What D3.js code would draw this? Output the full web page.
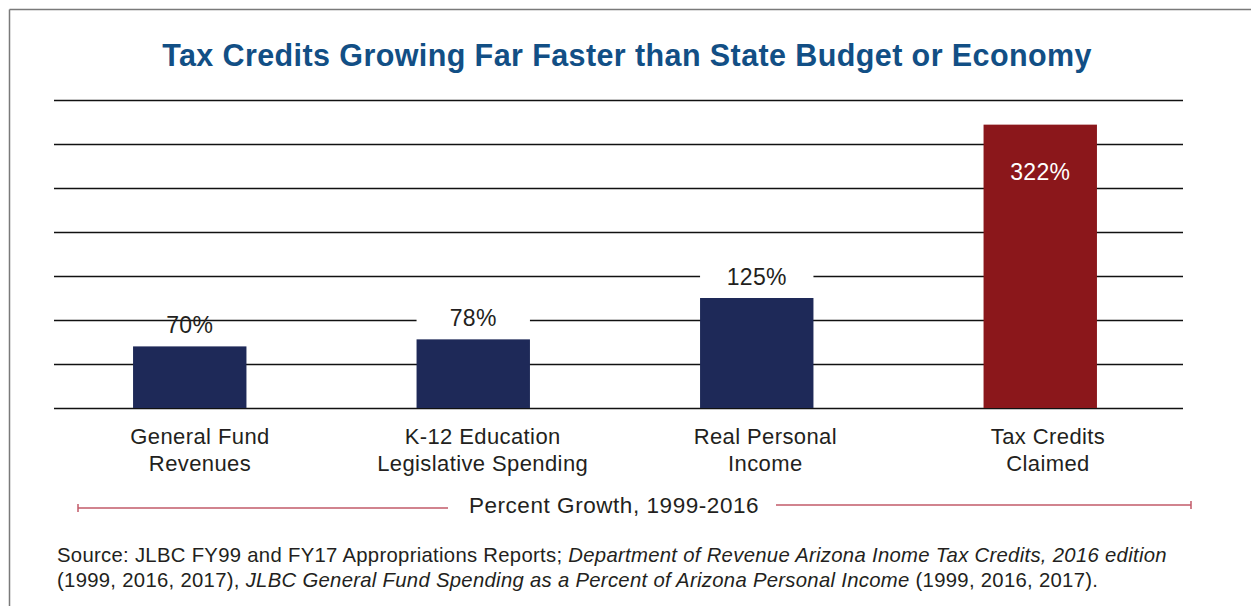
<!DOCTYPE html>
<html><head><meta charset="utf-8">
<script src="https://cdn.jsdelivr.net/npm/d3@7"></script>
<style>
html,body{margin:0;padding:0;background:#fff;}
svg{display:block;font-family:"Liberation Sans",Arial,Helvetica,sans-serif;}
</style></head>
<body>
<svg id="chart" width="1251" height="606"></svg>
<script>
const title = "Tax Credits Growing Far Faster than State Budget or Economy";
const categories = ["General Fund|Revenues", "K-12 Education|Legislative Spending", "Real Personal|Income", "Tax Credits|Claimed"];
const values = [70, 78, 125, 322];
const valueLabels = ["70%", "78%", "125%", "322%"];
const yTicks = [0, 50, 100, 150, 200, 250, 300, 350];
const axisTitle = "Percent Growth, 1999-2016";
const sourceLine1 = [["Source: JLBC FY99 and FY17 Appropriations Reports; ", false], ["Department of Revenue Arizona Inome Tax Credits, 2016 edition", true]];
const sourceLine2 = [["(1999, 2016, 2017), ", false], ["JLBC General Fund Spending as a Percent of Arizona Personal Income", true], [" (1999, 2016, 2017).", false]];

const navy = "#1e2958", red = "#8b171b", textCol = "#231f20";
const svg = d3.select("#chart");

// frame
svg.append("line").attr("x1", 9.5).attr("y1", 9.5).attr("x2", 1251).attr("y2", 9.5).attr("stroke", "#7a7a7a").attr("stroke-width", 1.5);
svg.append("line").attr("x1", 9.5).attr("y1", 9.5).attr("x2", 9.5).attr("y2", 606).attr("stroke", "#7a7a7a").attr("stroke-width", 1.5);

// title
svg.append("text").attr("x", 627).attr("y", 66).attr("text-anchor", "middle")
  .attr("font-size", 30.5).attr("letter-spacing", 0.4).attr("font-weight", "bold").attr("fill", "#124f85").text(title);

const y = d3.scaleLinear().domain([0, 350]).range([408, 100]);
const x = d3.scaleBand().domain(categories).range([48, 1182]).paddingInner(0.6).paddingOuter(0.3);
const xl = d3.scalePoint().domain(categories).range([200, 1048]);

// gridlines
const grid = svg.append("g").attr("transform", "translate(54,0)")
  .call(d3.axisLeft(y).tickValues(yTicks).tickSize(-1129).tickFormat(""));
grid.select(".domain").remove();
grid.selectAll(".tick line").attr("stroke", "#111").attr("stroke-width", 1.3);

// bars
svg.selectAll("rect.bar").data(values).join("rect").attr("class", "bar")
  .attr("x", (d, i) => x(categories[i])).attr("width", x.bandwidth())
  .attr("y", d => y(d)).attr("height", d => y(0) - y(d))
  .attr("fill", (d, i) => i === values.length - 1 ? red : navy);

// label boxes (white background hiding gridlines)
values.forEach((d, i) => {
  if (i === 1 || i === 2) {
    svg.append("rect").attr("x", x(categories[i])).attr("width", x.bandwidth())
      .attr("y", y(d) - 34).attr("height", 24).attr("fill", "#fff");
  }
});

// value labels
svg.selectAll("text.val").data(values).join("text").attr("class", "val")
  .attr("x", (d, i) => x(categories[i]) + x.bandwidth() / 2)
  .attr("y", (d, i) => i === values.length - 1 ? y(d) + 55 : y(d) - 13)
  .attr("text-anchor", "middle").attr("font-size", 23).attr("letter-spacing", 0.3)
  .attr("fill", (d, i) => i === values.length - 1 ? "#fff" : textCol)
  .text((d, i) => valueLabels[i]);

// category labels
const cl = svg.selectAll("text.cat").data(categories).join("text").attr("class", "cat")
  .attr("x", d => xl(d)).attr("y", 444).attr("text-anchor", "middle")
  .attr("font-size", 22).attr("letter-spacing", 0.4).attr("fill", textCol);
cl.selectAll("tspan").data(d => d.split("|")).join("tspan")
  .attr("x", function() { return this.parentNode.getAttribute("x"); })
  .attr("dy", (d, i) => i === 0 ? 0 : 27).text(d => d);

// axis title with red bracket line
const lineCol = "#c25a68";
svg.append("line").attr("x1", 78).attr("y1", 508).attr("x2", 448).attr("y2", 508).attr("stroke", lineCol).attr("stroke-width", 1.5);
svg.append("line").attr("x1", 776).attr("y1", 505).attr("x2", 1191).attr("y2", 505).attr("stroke", lineCol).attr("stroke-width", 1.5);
svg.append("line").attr("x1", 78).attr("y1", 504).attr("x2", 78).attr("y2", 512).attr("stroke", lineCol).attr("stroke-width", 1.5);
svg.append("line").attr("x1", 1191).attr("y1", 501).attr("x2", 1191).attr("y2", 509).attr("stroke", lineCol).attr("stroke-width", 1.5);
svg.append("text").attr("x", 614).attr("y", 513).attr("text-anchor", "middle")
  .attr("font-size", 22.5).attr("letter-spacing", 0.55).attr("fill", textCol).text(axisTitle);

// source
function srcLine(parts, yPos) {
  const t = svg.append("text").attr("x", 57).attr("y", yPos).attr("font-size", 20.3)
    .attr("letter-spacing", 0.3).attr("fill", textCol);
  t.selectAll("tspan").data(parts).join("tspan")
    .attr("font-style", d => d[1] ? "italic" : "normal").text(d => d[0]);
}
srcLine(sourceLine1, 562);
srcLine(sourceLine2, 587);
</script>
</body></html>
